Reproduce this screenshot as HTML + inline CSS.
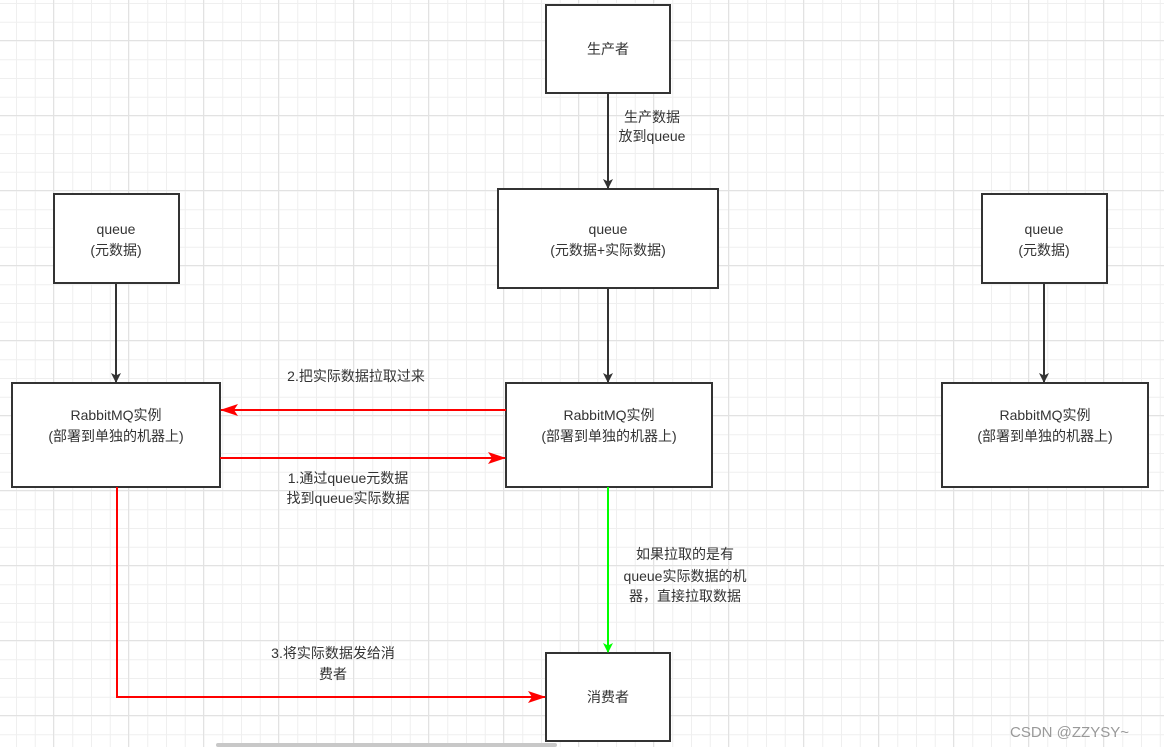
<!DOCTYPE html>
<html><head><meta charset="utf-8"><style>
html,body{margin:0;padding:0;width:1164px;height:747px;overflow:hidden;background:#fff;}
.bg{position:absolute;left:0;top:0;width:1164px;height:747px;
background-image:
linear-gradient(to right,#e2e2e2 1px,transparent 1px),
linear-gradient(to bottom,#e2e2e2 1px,transparent 1px),
linear-gradient(to right,#efefef 1px,transparent 1px),
linear-gradient(to bottom,#efefef 1px,transparent 1px);
background-size:75px 75px,75px 75px,18.75px 18.75px,18.75px 18.75px;
background-position:53px 40px,53px 40px,16px 3px,16px 3px;}
svg{position:absolute;left:0;top:0}
text{font-family:"Liberation Sans","Noto Sans CJK SC",sans-serif;font-size:14px;fill:#333;}
</style></head><body><div class="bg"></div>
<svg width="1164" height="747">
<defs>
<marker id="ak" markerWidth="10" markerHeight="10" refX="9" refY="5" orient="auto" markerUnits="userSpaceOnUse"><path d="M0,0 L10,5 L0,10 L2.5,5z" fill="#333"/></marker>
<marker id="ar" markerWidth="18" markerHeight="12" refX="17" refY="6" orient="auto" markerUnits="userSpaceOnUse"><path d="M0,0 L18,6 L0,12 L4,6z" fill="#f00"/></marker>
<marker id="ag" markerWidth="10" markerHeight="10" refX="9" refY="5" orient="auto" markerUnits="userSpaceOnUse"><path d="M0,0 L10,5 L0,10 L2.5,5z" fill="#0f0"/></marker>
</defs>
<g fill="#fff" stroke="#333" stroke-width="2">
<rect x="546" y="5" width="124" height="88"/>
<rect x="498" y="189" width="220" height="99"/>
<rect x="54" y="194" width="125" height="89"/>
<rect x="982" y="194" width="125" height="89"/>
<rect x="12" y="383" width="208" height="104"/>
<rect x="506" y="383" width="206" height="104"/>
<rect x="942" y="383" width="206" height="104"/>
<rect x="546" y="653" width="124" height="88"/>
</g>
<g stroke="#333" stroke-width="2" fill="none">
<line x1="608" y1="93" x2="608" y2="188" marker-end="url(#ak)"/>
<line x1="608" y1="288" x2="608" y2="382" marker-end="url(#ak)"/>
<line x1="116" y1="283" x2="116" y2="382" marker-end="url(#ak)"/>
<line x1="1044" y1="283" x2="1044" y2="382" marker-end="url(#ak)"/>
</g>
<g stroke="#f00" stroke-width="2" fill="none">
<line x1="506" y1="410" x2="221" y2="410" marker-end="url(#ar)"/>
<line x1="220" y1="458" x2="505" y2="458" marker-end="url(#ar)"/>
<polyline points="117,487 117,697 545,697" marker-end="url(#ar)"/>
</g>
<line x1="608" y1="487" x2="608" y2="652" stroke="#0f0" stroke-width="2" marker-end="url(#ag)"/>
<g text-anchor="middle">
<text x="608" y="54">生产者</text>
<text x="652" y="122">生产数据</text>
<text x="652" y="141">放到queue</text>
<text x="608" y="234">queue</text>
<text x="608" y="255">(元数据+实际数据)</text>
<text x="116" y="234">queue</text>
<text x="116" y="255">(元数据)</text>
<text x="1044" y="234">queue</text>
<text x="1044" y="255">(元数据)</text>
<text x="116" y="420">RabbitMQ实例</text>
<text x="116" y="441">(部署到单独的机器上)</text>
<text x="609" y="420">RabbitMQ实例</text>
<text x="609" y="441">(部署到单独的机器上)</text>
<text x="1045" y="420">RabbitMQ实例</text>
<text x="1045" y="441">(部署到单独的机器上)</text>
<text x="356" y="381">2.把实际数据拉取过来</text>
<text x="348" y="483">1.通过queue元数据</text>
<text x="348" y="503">找到queue实际数据</text>
<text x="685" y="559">如果拉取的是有</text>
<text x="685" y="581">queue实际数据的机</text>
<text x="685" y="601">器，直接拉取数据</text>
<text x="333" y="658">3.将实际数据发给消</text>
<text x="333" y="679">费者</text>
<text x="608" y="702">消费者</text>
</g>
<text x="1010" y="737" style="font-size:15px;fill:#999">CSDN @ZZYSY~</text>
<rect x="216" y="743" width="341" height="4" rx="2" fill="#c8c8c8"/>
</svg>
</body></html>
